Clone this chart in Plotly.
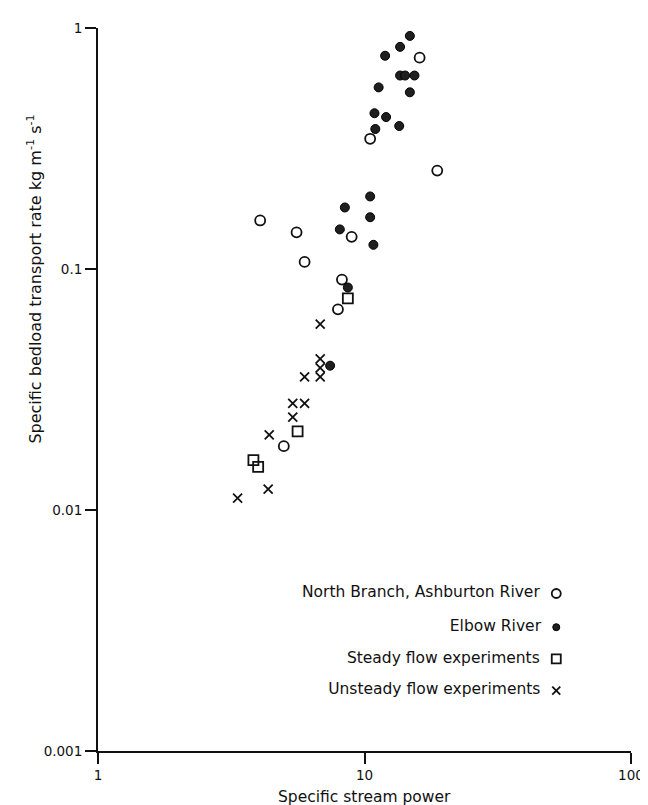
import plotly.graph_objects as go

# North Branch, Ashburton River (open circles)
nb_x = [16.1, 10.5, 18.75, 4.06, 5.56, 8.95, 5.96, 8.23, 7.95, 4.98]
nb_y = [0.753, 0.347, 0.256, 0.159, 0.142, 0.136, 0.107, 0.0904, 0.068, 0.0184]

# Elbow River (filled circles)
el_x = [14.8, 13.6, 11.95, 13.6, 14.2, 15.4, 11.3, 14.8, 10.9, 12.05, 13.5, 10.98,
        10.5, 8.44, 10.5, 8.08, 10.8, 8.66, 7.43]
el_y = [0.927, 0.835, 0.767, 0.635, 0.635, 0.635, 0.567, 0.541, 0.443, 0.427, 0.392, 0.381,
        0.200, 0.180, 0.164, 0.146, 0.126, 0.0838, 0.0397]

# Steady flow experiments (open squares)
st_x = [8.66, 5.61, 3.83, 3.99]
st_y = [0.0755, 0.0212, 0.0161, 0.0151]

# Unsteady flow experiments (crosses)
un_x = [6.82, 6.82, 6.82, 6.82, 5.96, 5.38, 5.96, 5.38, 4.39, 4.35, 3.34]
un_y = [0.059, 0.0424, 0.0389, 0.0357, 0.0357, 0.0277, 0.0277, 0.0243, 0.0205, 0.0122, 0.0112]

legend_labels = ["North Branch, Ashburton River", "Elbow River",
                 "Steady flow experiments", "Unsteady flow experiments"]

x_ticks = [1, 10, 100]
x_tick_text = ["1", "10", "100"]
y_ticks = [0.001, 0.01, 0.1, 1]
y_tick_text = ["0.001", "0.01", "0.1", "1"]

FONT = "DejaVu Sans, Liberation Sans, sans-serif"
INK = "#111111"

open_circle = dict(symbol="circle-open", size=10, color=INK, line=dict(width=1.8, color=INK))
filled_circle = dict(symbol="circle", size=9, color="#1f1f1f", line=dict(width=1, color="#000000"))
open_square = dict(symbol="square-open", size=10, color=INK, line=dict(width=1.8, color=INK))
cross = dict(symbol="x-thin", size=9, color=INK, line=dict(width=1.8, color=INK))

leg_open_circle = dict(open_circle, size=9)
leg_filled = dict(filled_circle, size=7)
leg_square = dict(open_square, size=9)
leg_cross = dict(cross, size=8)
leg_styles = [leg_open_circle, leg_filled, leg_square, leg_cross]

fig = go.Figure()
for xs, ys, st in [(nb_x, nb_y, open_circle), (el_x, el_y, filled_circle),
                   (st_x, st_y, open_square), (un_x, un_y, cross)]:
    fig.add_trace(go.Scatter(x=xs, y=ys, mode="markers", marker=st, showlegend=False,
                             hoverinfo="x+y"))

# Legend key drawn on an overlay axis measured in screen pixels (text left of the symbol)
leg_px_x = 556
leg_px_y = [584, 618, 650, 682]
for lab, st, py in zip(legend_labels, leg_styles, leg_px_y):
    fig.add_trace(go.Scatter(x=[leg_px_x], y=[py], xaxis="x2", yaxis="y2",
                             mode="markers+text", text=[lab + "  "], textposition="middle left",
                             textfont=dict(family=FONT, size=15.5, color=INK),
                             marker=st, showlegend=False, hoverinfo="skip"))

axis_common = dict(type="log", showgrid=False, zeroline=False, showline=True,
                   linecolor=INK, linewidth=2, ticks="outside", ticklen=11,
                   tickwidth=2, tickcolor=INK, mirror=False,
                   tickfont=dict(family=FONT, size=13.5, color=INK))

fig.update_layout(
    width=648, height=805,
    margin=dict(l=90, r=16, t=13, b=62),
    paper_bgcolor="white", plot_bgcolor="white",
    xaxis=dict(range=[0, 2], tickvals=x_ticks, ticktext=x_tick_text, **axis_common),
    yaxis=dict(range=[-3, 0], tickvals=y_ticks, ticktext=y_tick_text, **axis_common),
    xaxis2=dict(overlaying="x", range=[90, 632], visible=False, fixedrange=True),
    yaxis2=dict(overlaying="y", range=[743, 13], visible=False, fixedrange=True),
    annotations=[
        dict(text="Specific stream power", xref="paper", yref="paper", x=0.5, y=0,
             xanchor="center", yanchor="middle", yshift=-46, showarrow=False,
             font=dict(family=FONT, size=15.5, color=INK)),
        dict(text="Specific bedload transport rate kg m<sup>-1</sup> s<sup>-1</sup>",
             xref="paper", yref="paper", x=0, y=0.652, xanchor="center", yanchor="middle",
             xshift=-63, textangle=-90, showarrow=False,
             font=dict(family=FONT, size=16, color=INK)),
    ],
)

fig.write_html("out.html")
